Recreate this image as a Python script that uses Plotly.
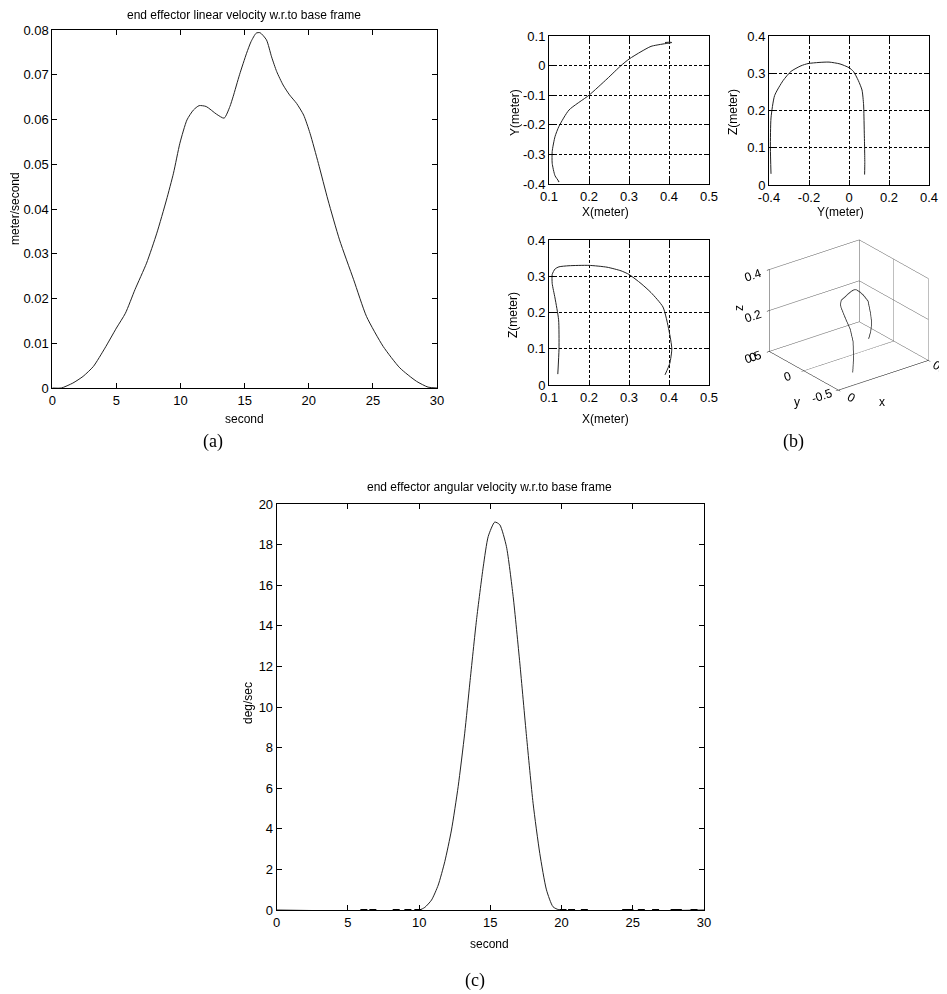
import plotly.graph_objects as go

# The page body adds an 8px margin; size and place everything to land on the 947x994 window.
OFF = 8
W, H = 947 - OFF, 994 - OFF

# ---------------- data ----------------
lin_t = [0, 0.7, 1.6, 2.4, 3.2, 4.1, 5.0, 5.7, 6.45, 7.35, 8.15, 8.9, 9.45, 9.95, 10.5, 11.0,
         11.45, 12.0, 12.8, 13.4, 13.85, 14.1, 14.6, 15.15, 15.5, 15.9, 16.2, 16.7, 17.1, 17.5,
         18.0, 18.5, 19.05, 19.6, 20.1, 20.75, 21.5, 22.4, 23.5, 24.5, 25.8, 27.1, 28.4, 29.3, 30]
lin_v = [0, 0, 0.0011, 0.0026, 0.0048, 0.0089, 0.0134, 0.0167, 0.022, 0.0279, 0.0346, 0.042,
         0.048, 0.0547, 0.0599, 0.0621, 0.0631, 0.0629, 0.0612, 0.0603, 0.0629, 0.0651, 0.070,
         0.0748, 0.0774, 0.0793, 0.0794, 0.0778, 0.074, 0.0707, 0.0677, 0.0655, 0.0636, 0.061,
         0.0569, 0.0502, 0.042, 0.0331, 0.0242, 0.016, 0.0093, 0.0045, 0.0015, 0.0002, 0]

ang_t = [0, 10.0, 10.4, 10.87, 11.34, 11.8, 12.27, 12.74, 13.2, 13.56, 14.03, 14.5, 14.85,
         15.31, 15.66, 16.13, 16.6, 17.07, 17.54, 18.0, 18.47, 18.94, 19.4, 19.87, 30]
ang_v = [0, 0, 0.13, 0.49, 1.23, 2.38, 3.94, 6.08, 8.71, 11.18, 14.3, 16.9, 18.4,
         19.11, 18.98, 17.9, 15.45, 12.16, 8.55, 5.26, 2.79, 0.99, 0.16, 0, 0]
# small marks sitting on the zero line of (c)
ang_mark_t = [6.12, 6.75, 8.39, 9.21, 9.91, 20.1, 20.7, 21.6, 24.5, 24.8, 25.6, 26.6, 27.9, 28.2, 29.3]
ang_mark_v = [0] * len(ang_mark_t)

traj_x = [0.122, 0.125, 0.124, 0.115, 0.108, 0.108, 0.115, 0.125, 0.15, 0.20, 0.245, 0.28,
          0.30, 0.33, 0.355, 0.385, 0.40, 0.407, 0.402, 0.39]
traj_y = [-0.39, -0.393, -0.39, -0.372, -0.33, -0.29, -0.24, -0.205, -0.15, -0.10, -0.045, 0.0,
          0.022, 0.047, 0.065, 0.073, 0.076, 0.078, 0.079, 0.078]
traj_z = [0.03, 0.10, 0.18, 0.24, 0.28, 0.305, 0.32, 0.326, 0.329, 0.33, 0.325, 0.315,
          0.305, 0.28, 0.255, 0.215, 0.15, 0.10, 0.06, 0.028]

lin_xticks = [0, 5, 10, 15, 20, 25, 30]
lin_yticks = [0, 0.01, 0.02, 0.03, 0.04, 0.05, 0.06, 0.07, 0.08]
lin_ytext = ["0", "0.01", "0.02", "0.03", "0.04", "0.05", "0.06", "0.07", "0.08"]
ang_yticks = [0, 2, 4, 6, 8, 10, 12, 14, 16, 18, 20]
xm_ticks = [0.1, 0.2, 0.3, 0.4, 0.5]
xm_text = ["0.1", "0.2", "0.3", "0.4", "0.5"]
ym_ticks = [-0.4, -0.3, -0.2, -0.1, 0, 0.1]
ym_text = ["-0.4", "-0.3", "-0.2", "-0.1", "0", "0.1"]
yz_ticks = [-0.4, -0.2, 0, 0.2, 0.4]
yz_text = ["-0.4", "-0.2", "0", "0.2", "0.4"]
zm_ticks = [0, 0.1, 0.2, 0.3, 0.4]
zm_text = ["0", "0.1", "0.2", "0.3", "0.4"]

FONT = "Liberation Sans, Arial, sans-serif"
SERIF = "Liberation Serif, Times New Roman, serif"
TF = dict(family=FONT, size=13, color="black")


def px_dom_x(a, b):
    return [(a - OFF) / W, (b - OFF) / W]


def px_dom_y(top, bottom):
    return [1 - (bottom - OFF) / H, 1 - (top - OFF) / H]


def ax(domain, rng, tickvals, ticktext=None, anchor=None, grid=False):
    d = dict(domain=domain, range=rng, tickvals=tickvals, showline=True, linecolor="black",
             linewidth=1, mirror="ticks", ticks="inside", ticklen=5, tickcolor="black",
             zeroline=False, showgrid=grid, tickfont=TF, anchor=anchor, fixedrange=True,
             automargin=False)
    if ticktext is not None:
        d["ticktext"] = ticktext
    if grid:
        d.update(gridcolor="black", gridwidth=1, griddash="3px,2px")
    return d


fig = go.Figure()
LINE = dict(color="#222222", width=1)

fig.add_trace(go.Scatter(x=lin_t, y=lin_v, mode="lines", line=dict(LINE, shape="spline", smoothing=0.6),
                         xaxis="x", yaxis="y"))
fig.add_trace(go.Scatter(x=traj_x, y=traj_y, mode="lines", line=dict(LINE, shape="spline", smoothing=0.6),
                         xaxis="x2", yaxis="y2"))
fig.add_trace(go.Scatter(x=traj_y, y=traj_z, mode="lines", line=dict(LINE, shape="spline", smoothing=0.6),
                         xaxis="x3", yaxis="y3"))
fig.add_trace(go.Scatter(x=traj_x, y=traj_z, mode="lines", line=dict(LINE, shape="spline", smoothing=0.6),
                         xaxis="x4", yaxis="y4"))
fig.add_trace(go.Scatter3d(x=traj_x, y=traj_y, z=traj_z, mode="lines", line=dict(color="#222222", width=1.5),
                           scene="scene"))
fig.add_trace(go.Scatter(x=ang_t, y=ang_v, mode="lines", line=dict(LINE, shape="spline", smoothing=0.6),
                         xaxis="x5", yaxis="y5"))
fig.add_trace(go.Scatter(x=ang_mark_t, y=ang_mark_v, mode="markers",
                         marker=dict(symbol="line-ew-open", size=5, color="black",
                                     line=dict(color="black", width=2)),
                         xaxis="x5", yaxis="y5", cliponaxis=False))

A_X = px_dom_x(52.3, 437)
A_Y = px_dom_y(30, 388)
XY_X = px_dom_x(549, 709)
XY_Y = px_dom_y(36, 184)
YZ_X = px_dom_x(769, 929)
YZ_Y = px_dom_y(36, 185)
XZ_X = px_dom_x(549, 709)
XZ_Y = px_dom_y(240, 385)
C_X = px_dom_x(276.7, 704)
C_Y = px_dom_y(504, 910)

sc_axis = dict(showbackground=False, gridcolor="#555555", gridwidth=1, showline=True, linecolor="black",
               linewidth=1, zeroline=False, showspikes=False, tickfont=dict(family=FONT, size=12, color="black"),
               ticks="outside", ticklen=3, tickcolor="black", title=dict(text=""))
s = 1.26
shift = 0.087  # moves the box a few px right inside a domain widened to the left
fig.update_layout(
    width=W, height=H, margin=dict(l=0, r=0, t=0, b=0, autoexpand=False), showlegend=False,
    paper_bgcolor="white", plot_bgcolor="white", hovermode=False,
    xaxis=ax(A_X, [0, 30], lin_xticks, anchor="y"),
    yaxis=ax(A_Y, [0, 0.08], lin_yticks, lin_ytext, anchor="x"),
    xaxis2=ax(XY_X, [0.1, 0.5], xm_ticks, xm_text, anchor="y2", grid=True),
    yaxis2=ax(XY_Y, [-0.4, 0.1], ym_ticks, ym_text, anchor="x2", grid=True),
    xaxis3=ax(YZ_X, [-0.4, 0.4], yz_ticks, yz_text, anchor="y3", grid=True),
    yaxis3=ax(YZ_Y, [0, 0.4], zm_ticks, zm_text, anchor="x3", grid=True),
    xaxis4=ax(XZ_X, [0.1, 0.5], xm_ticks, xm_text, anchor="y4", grid=True),
    yaxis4=ax(XZ_Y, [0, 0.4], zm_ticks, zm_text, anchor="x4", grid=True),
    xaxis5=ax(C_X, [0, 30], lin_xticks, anchor="y5"),
    yaxis5=ax(C_Y, [0, 20], ang_yticks, anchor="x5"),
    scene=dict(
        domain=dict(x=px_dom_x(735, 947), y=px_dom_y(225, 405)),
        xaxis=dict(sc_axis, range=[0, 0.5], tickvals=[0, 0.5], ticktext=["0", "0.5"]),
        yaxis=dict(sc_axis, range=[-0.5, 0.5], tickvals=[-0.5, 0, 0.5], ticktext=["-0.5", "0", "0.5"]),
        zaxis=dict(sc_axis, range=[0, 0.4], tickvals=[0, 0.2, 0.4], ticktext=["0", "0.2", "0.4"]),
        aspectmode="manual", aspectratio=dict(x=1.0 * s, y=1.0 * s, z=0.8 * s),
        camera=dict(projection=dict(type="orthographic"),
                    eye=dict(x=-0.5497 * 1.6 - 0.793 * shift, y=-0.7158 * 1.6 + 0.609 * shift, z=0.4305 * 1.6),
                    up=dict(x=0, y=0, z=1),
                    center=dict(x=-0.793 * shift, y=0.609 * shift, z=0)),
        dragmode=False,
    ),
)


def note(text, x, y, size=12, family=FONT, angle=0):
    fig.add_annotation(text=text, x=(x - OFF) / W, y=1 - (y - OFF) / H, xref="paper", yref="paper",
                       showarrow=False, font=dict(family=family, size=size, color="black"),
                       textangle=angle, xanchor="center", yanchor="middle")


note("end effector linear velocity w.r.to base frame", 244, 15)
note("second", 244, 419)
note("meter/second", 15, 209, angle=-90)
note("Y(meter)", 515, 113, angle=-90)
note("X(meter)", 605, 212)
note("Z(meter)", 733, 112, angle=-90)
note("Y(meter)", 840, 212)
note("Z(meter)", 513, 315, angle=-90)
note("X(meter)", 605, 419)
note("z", 739, 308, angle=-90)
note("y", 797, 402)
note("x", 882, 402)
note("end effector angular velocity w.r.to base frame", 489, 487)
note("second", 489, 944)
note("deg/sec", 248, 703, angle=-90)
note("(a)", 213, 442, size=18, family=SERIF)
note("(b)", 793, 442, size=18, family=SERIF)
note("(c)", 475, 980, size=18, family=SERIF)

fig.write_html("out.html")
